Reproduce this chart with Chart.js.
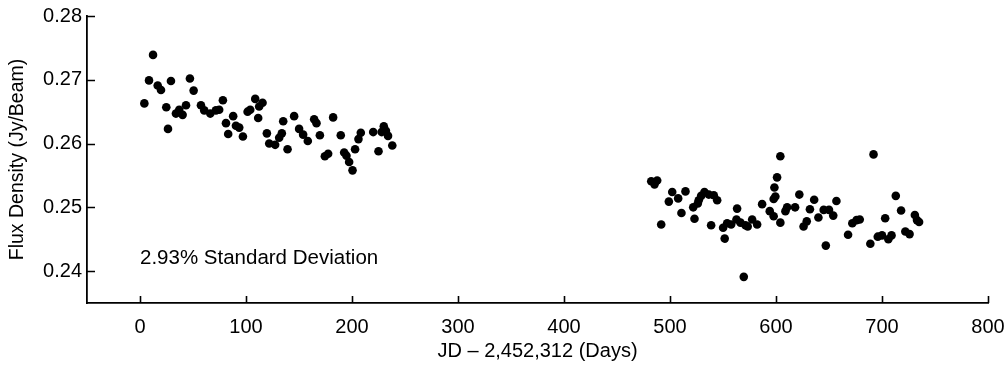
<!DOCTYPE html>
<html><head><meta charset="utf-8">
<script src="https://cdn.jsdelivr.net/npm/chart.js@4.4.1/dist/chart.umd.min.js"></script>
<style>html,body{margin:0;padding:0;background:#fff}#wrap{width:1008px;height:366px}</style>
</head><body><div id="wrap"><canvas id="c" width="1008" height="366"></canvas></div>
<script>
// ---- data ----
const days = [
  4.1, 8.5, 12.3, 16.7, 19.8, 24.8, 26.4, 29.2, 33.9, 37.0, 40.2, 43.4, 47.1, 50.6,
  57.5, 60.6, 66.3, 71.6, 74.7, 78.2, 81.1, 83.2, 87.9, 90.5, 93.6, 97.1, 101.5, 104.0,
  108.7, 111.5, 112.4, 115.6, 119.7, 121.9, 127.5, 131.3, 133.8, 135.1, 139.2, 145.4,
  150.1, 153.9, 158.3, 164.3, 166.5, 169.7, 174.4, 177.5, 182.2, 189.4, 192.6, 194.8,
  197.3, 200.5, 202.9, 206.1, 208.3, 220, 225, 228, 230, 232, 234, 238,
  482.3, 487.9, 485.4, 491.7, 498.9, 502.1, 507.7, 510.8, 514.6, 521.9, 523.1, 526.2,
  527.1, 529.4, 532.5, 536.6, 538.8, 541.3, 544.5, 550.1, 551.6, 553.9, 557.7, 562.7,
  563.3, 566.5, 569.6, 571.2, 573.3, 577.5, 582.2, 586.9, 594.1, 597.8, 597.8, 598.5,
  599.4, 601.0, 604.1, 604.1, 608.9, 610.5, 618, 622, 626, 629, 632, 636, 640, 645,
  647, 650, 654, 657, 668, 672, 676, 679, 689, 692, 696, 700, 703, 706, 709, 713,
  718, 722, 726, 731, 733, 735
];
const flux = [
  0.2663, 0.2699, 0.2739, 0.2691, 0.2684, 0.2657, 0.2623, 0.2698, 0.2647, 0.2653, 0.2645, 0.2660, 0.2702, 0.2683,
  0.2660, 0.2652, 0.2647, 0.2652, 0.2653, 0.2668, 0.2632, 0.2615, 0.2643, 0.2628, 0.2625, 0.2611, 0.2650, 0.2653,
  0.2670, 0.2640, 0.2658, 0.2664, 0.2616, 0.2600, 0.2598, 0.2609, 0.2616, 0.2635, 0.2591, 0.2643,
  0.2623, 0.2614, 0.2604, 0.2638, 0.2632, 0.2613, 0.2580, 0.2584, 0.2641, 0.2613, 0.2586, 0.2581,
  0.2571, 0.2558, 0.2591, 0.2607, 0.2617, 0.2618, 0.2588, 0.2618, 0.2627, 0.2620, 0.2612, 0.2597,
  0.2541, 0.2542, 0.2536, 0.2473, 0.2509, 0.2524, 0.2514, 0.2491, 0.2525, 0.2500, 0.2482, 0.2506,
  0.2511, 0.2518, 0.2524, 0.2520, 0.2472, 0.2519, 0.2511, 0.2468, 0.2451, 0.2475, 0.2473, 0.2481,
  0.2498, 0.2476, 0.2391, 0.2472, 0.2470, 0.2481, 0.2473, 0.2505, 0.2494, 0.2486, 0.2513, 0.2531,
  0.2517, 0.2547, 0.2476, 0.2580, 0.2494, 0.2500, 0.2500, 0.2520, 0.2470, 0.2478, 0.2497, 0.2512, 0.2484, 0.2496,
  0.2440, 0.2496, 0.2487, 0.2510, 0.2457, 0.2475, 0.2480, 0.2481, 0.2443, 0.2583, 0.2454, 0.2456, 0.2483, 0.2450, 0.2456, 0.2518,
  0.2495, 0.2462, 0.2458, 0.2488, 0.2480, 0.2477
];
const xTickValues = [0, 100, 200, 300, 400, 500, 600, 700, 800];
const yTickValues = [0.24, 0.25, 0.26, 0.27, 0.28];
const xTitle = 'JD \u2013 2,452,312 (Days)';
const yTitle = 'Flux Density (Jy/Beam)';
const noteText = '2.93% Standard Deviation';
const noteDay = 0;
const noteFlux = 0.2420;

// ---- chart ----
const FONT = 'Arial, "Liberation Sans", Helvetica, sans-serif';
const points = days.map((d, i) => ({ x: d, y: flux[i] }));

const decor = {
  id: 'decor',
  afterDraw(chart) {
    const { ctx, chartArea: a, scales: { x, y } } = chart;
    ctx.save();
    ctx.strokeStyle = '#000';
    ctx.lineWidth = 1.6;
    ctx.beginPath();
    x.ticks.forEach(t => {
      const px = Math.round(x.getPixelForValue(t.value)) + 0.5;
      ctx.moveTo(px, a.bottom); ctx.lineTo(px, a.bottom - 7);
    });
    y.ticks.forEach(t => {
      const py = Math.round(y.getPixelForValue(t.value)) + 0.5;
      ctx.moveTo(a.left, py); ctx.lineTo(a.left + 8, py);
    });
    ctx.stroke();
    ctx.fillStyle = '#000';
    ctx.font = '20.5px ' + FONT;
    ctx.textAlign = 'left';
    ctx.textBaseline = 'middle';
    ctx.fillText(noteText, x.getPixelForValue(noteDay), y.getPixelForValue(noteFlux));
    ctx.restore();
  }
};

new Chart(document.getElementById('c'), {
  type: 'scatter',
  data: {
    datasets: [{
      data: points,
      backgroundColor: '#000',
      borderWidth: 0,
      pointRadius: 4.3,
      pointHoverRadius: 4.3
    }]
  },
  options: {
    responsive: false,
    animation: false,
    devicePixelRatio: 1,
    layout: { padding: { left: 0, right: 20, top: 16, bottom: 0 } },
    plugins: { legend: { display: false }, tooltip: { enabled: false } },
    scales: {
      x: {
        type: 'linear',
        min: -50, max: 800,
        afterBuildTicks: s => { s.ticks = xTickValues.map(v => ({ value: v })); },
        afterFit: s => { s.height = 63; s.paddingLeft = 0; s.paddingRight = 0; },
        grid: { display: false, drawTicks: false },
        border: { display: true, color: '#000', width: 1.8 },
        ticks: { color: '#000', padding: 12, maxRotation: 0, font: { family: FONT, size: 20 } },
        title: { display: true, text: xTitle, color: '#000', padding: { top: 0, bottom: 3 }, font: { family: FONT, size: 20 } }
      },
      y: {
        type: 'linear',
        min: 0.235, max: 0.28,
        afterBuildTicks: s => { s.ticks = yTickValues.map(v => ({ value: v })); },
        afterFit: s => { s.width = 87; s.paddingTop = 0; s.paddingBottom = 0; },
        grid: { display: false, drawTicks: false },
        border: { display: true, color: '#000', width: 1.8 },
        ticks: { color: '#000', padding: 5, font: { family: FONT, size: 20 }, callback: v => v.toFixed(2) },
        title: { display: true, text: yTitle, color: '#000', padding: { top: 6, bottom: 0 }, font: { family: FONT, size: 19.5 } }
      }
    }
  },
  plugins: [decor]
});
</script></body></html>
